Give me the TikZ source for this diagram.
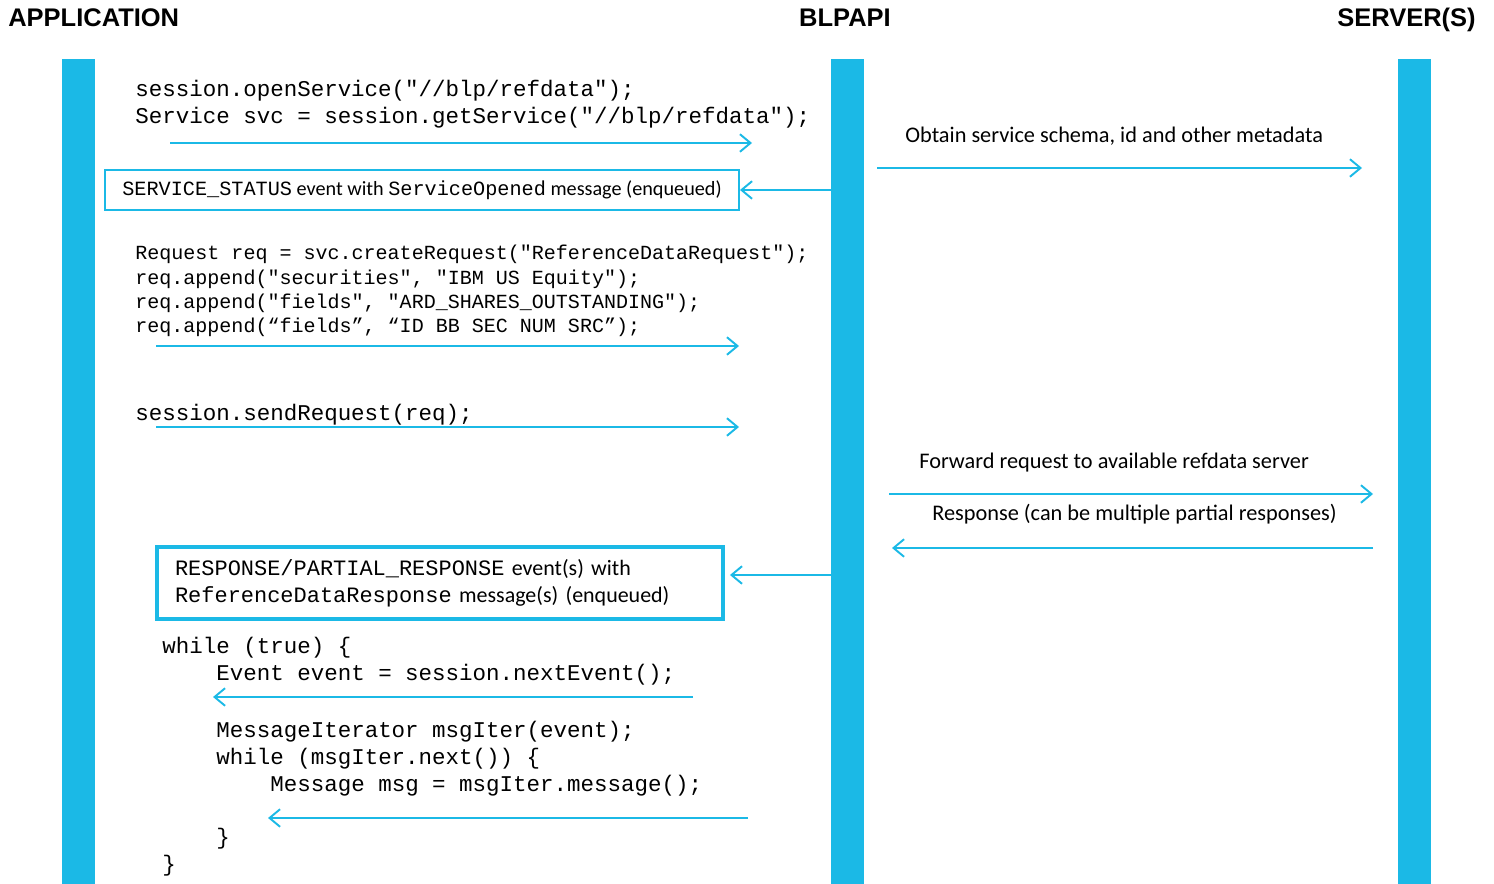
\documentclass[tikz,border=0pt]{standalone}
\usepackage{fontspec}
\setmainfont{Carlito}
\setsansfont{Liberation Sans}
\setmonofont{Liberation Mono}
\usetikzlibrary{arrows.meta, positioning}
\definecolor{blpblue}{RGB}{27,185,230}
\tikzset{
  lane/.style={fill=blpblue, inner sep=0, minimum width=0.66cm, minimum height=16.5cm},
  title/.style={font=\sffamily\bfseries\fontsize{14.5}{16}\selectfont, inner sep=0},
  code/.style={font=\ttfamily\fontsize{12.8}{15.3}\selectfont, align=left, anchor=north west, inner sep=0},
  note/.style={font=\fontsize{12.7}{15}\selectfont, anchor=west, inner sep=0},
  msg/.style={draw=blpblue, line width=1.1pt, -{Straight Barb[length=6pt,width=10pt,line width=1.1pt]}},
  evbox/.style={draw=blpblue, line width=1.2pt, inner sep=0},
}

\begin{document}
\begin{tikzpicture}[x=0.02cm, y=-0.02cm]
    \useasboundingbox (0,0) rectangle (1494,884);

    % Lanes
    \node[lane] (app) at (78.5,471.5) {};
    \node[lane] (blp) at (847.5,471.5) {};
    \node[lane] (srv) at (1414.5,471.5) {};

    % Titles
    \node[title, anchor=base west] (tapp) at (8,27) {APPLICATION};
    \node[title, anchor=base] (tblp) at (845,27) {BLPAPI};
    \node[title, anchor=base east] (tsrv) at (1476,27) {SERVER(S)};

    % Open service
    \node[code] (open) at (135,80) {session.openService("//blp/refdata");\\
        Service svc = session.getService("//blp/refdata");};
    \coordinate (opena) at (170,143);
    \coordinate (openb) at (752,143);
    \draw[msg] (opena) -- (openb);

    % Service status event
    \node[evbox, minimum width=12.68cm, minimum height=0.8cm,
          font=\fontsize{11.5}{14}\selectfont] (svcstat) at (422,190)
        {\texttt{SERVICE\_STATUS} event with \texttt{ServiceOpened} message (enqueued)};
    \draw[msg] (blp.west |- svcstat.east) -- (svcstat.east);

    % Schema from server
    \node[note] (meta) at (905,136) {Obtain service schema, id and other metadata};
    \coordinate (metaa) at (877,168);
    \coordinate (metab) at (1362,168);
    \draw[msg] (metaa) -- (metab);

    % Build request
    \node[code, font=\ttfamily\fontsize{11.4}{13.8}\selectfont] (req) at (135,245)
        {Request req = svc.createRequest("ReferenceDataRequest");\\
        req.append("securities", "IBM US Equity");\\
        req.append("fields", "ARD\_SHARES\_OUTSTANDING");\\
        req.append(“fields”, “ID BB SEC NUM SRC”);};
    \coordinate (reqa) at (156,346);
    \coordinate (reqb) at (739,346);
    \draw[msg] (reqa) -- (reqb);

    % Send request
    \node[code] (send) at (135,404) {session.sendRequest(req);};
    \coordinate (senda) at (156,427);
    \coordinate (sendb) at (739,427);
    \draw[msg] (senda) -- (sendb);

    % Server round trip
    \node[note] (fwd) at (919,463) {Forward request to available refdata server};
    \coordinate (fwda) at (889,494);
    \coordinate (fwdb) at (1373,494);
    \draw[msg] (fwda) -- (fwdb);
    \node[note] (resp) at (932,514) {Response (can be multiple partial responses)};
    \coordinate (respa) at (1373,548);
    \coordinate (respb) at (892,548);
    \draw[msg] (respa) -- (respb);

    % Response event
    \node[evbox, line width=2pt, minimum width=11.32cm, minimum height=1.44cm,
          text width=10.6cm, align=left, font=\fontsize{12.5}{15.3}\selectfont] (respev) at (440,583)
        {\texttt{RESPONSE/PARTIAL\_RESPONSE} event(s) with\\
        \texttt{ReferenceDataResponse} message(s) (enqueued)};
    \coordinate (respin) at ([xshift=3pt, yshift=0.16cm]respev.east);
    \draw[msg] (blp.west |- respin) -- (respin);

    % Event loop
    \node[code] (loopa) at (162,637) {while (true) \{\\
        \phantom{0000}Event event = session.nextEvent();};
    \coordinate (nexta) at (693,697);
    \coordinate (nextb) at (213,697);
    \draw[msg] (nexta) -- (nextb);
    \node[code] (loopb) at (162,721) {\phantom{0000}MessageIterator msgIter(event);\\
        \phantom{0000}while (msgIter.next()) \{\\
        \phantom{00000000}Message msg = msgIter.message();};
    \coordinate (msga) at (748,818);
    \coordinate (msgb) at (268,818);
    \draw[msg] (msga) -- (msgb);
    \node[code] (loopc) at (162,828) {\phantom{0000}\}\\\}};
\end{tikzpicture}
\end{document}
